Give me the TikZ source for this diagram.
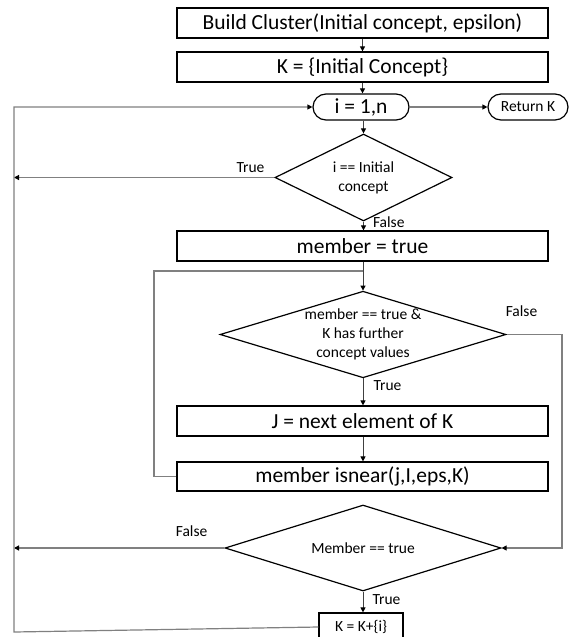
\documentclass[tikz,border=0pt]{standalone}
\usepackage{fontspec}
\setmainfont{Carlito}
\usetikzlibrary{shapes.geometric,arrows.meta}
\begin{document}
\begin{tikzpicture}[x=1pt,y=-1pt,
  >={Triangle[length=5pt,width=5pt,color=black]},
  big/.style={font=\fontsize{21.5}{24}\selectfont},
  sml/.style={font=\fontsize{15.5}{19}\selectfont},
  box/.style={draw,line width=1.2pt,minimum width=371pt,minimum height=30pt,inner sep=0pt,big},
  term/.style={draw,line width=1.2pt,rounded corners=13pt,minimum height=26pt,inner sep=0pt},
  decision/.style={draw,diamond,line width=1.2pt,inner sep=0pt,align=center,sml},
  lbl/.style={inner sep=0pt,sml},
  arr/.style={draw=black!75,line width=1pt,->},
  flow/.style={draw=black!50,line width=1.2pt}]
  \useasboundingbox (0,0) rectangle (569,637);
  \clip (0,0) rectangle (569,637);
  \node[box] (build) at (362.5,23) {Build Cluster(Initial concept, epsilon)};
  \node[box] (init) at (362.5,67) {K = \{Initial Concept\}};
  \node[term,big,minimum width=96pt] (loop) at (361,107) {i = 1,n};
  \node[term,sml,minimum width=80pt] (ret) at (528,107) {Return K};
  \node[decision,minimum width=177pt,minimum height=87pt,aspect=2] (isinit) at (363.5,177.5) {i == Initial\\concept};
  \node[box] (member) at (362.5,246) {member = true};
  \node[decision,minimum width=278pt,minimum height=85pt,aspect=3.3] (further) at (363,334.5) {member == true \&\\K has further\\concept values};
  \node[box] (next) at (362.5,421) {J = next element of K};
  \node[box,minimum height=29pt] (near) at (362.5,476.5) {member isnear(j,I,eps,K)};
  \node[decision,minimum width=276pt,minimum height=86pt,aspect=3.2] (ismember) at (363,548) {Member == true};
  \node[box,sml,minimum width=84pt,minimum height=28pt] (add) at (361,627) {K = K+\{i\}};
  \coordinate (lefttop) at (14,107);
  \coordinate (leftbot) at (14,632);
  \coordinate (loopback) at (154,271);
  \coordinate (rightturn) at (562,334.5);
  \draw[arr] (build) -- (init);
  \draw[arr] (init.south) -- (init.south |- loop.north);
  \draw[flow,->] (loop) -- (ret);
  \draw[arr] (loop.south -| isinit.north) -- (isinit.north);
  \draw[flow,->] (isinit.west) -- node[lbl,pos=0.092,above=4pt] (yes1) {True} (isinit.west -| lefttop);
  \draw[arr] (isinit.south) -- node[lbl,pos=0.1,right=9pt] (no1) {False} (isinit.south |- member.north);
  \draw[arr] (member.south -| further.north) -- (further.north);
  \draw[flow] (near.west) -- (near.west -| loopback) -- (loopback) -- (loopback -| further.north);
  \draw[arr] (further.south) -- node[lbl,pos=0.28,right=10pt] (yes2) {True} (further.south |- next.north);
  \draw[flow,->] (further.east) -- node[lbl,pos=0.27,above=17pt] (no2) {False} (rightturn) -- (rightturn |- ismember.east) -- (ismember.east);
  \draw[arr] (next.south -| further.south) -- (near.north -| further.south);
  \draw[flow,->] (ismember.west) -- node[lbl,pos=0.156,above=11pt] (no3) {False} (ismember.west -| lefttop);
  \draw[arr] (ismember.south) -- node[lbl,pos=0.36,right=9pt] (yes3) {True} (ismember.south |- add.north);
  \draw[flow,->] (add.west) -- (leftbot) -- (lefttop) -- (loop.west);
\end{tikzpicture}
\end{document}
